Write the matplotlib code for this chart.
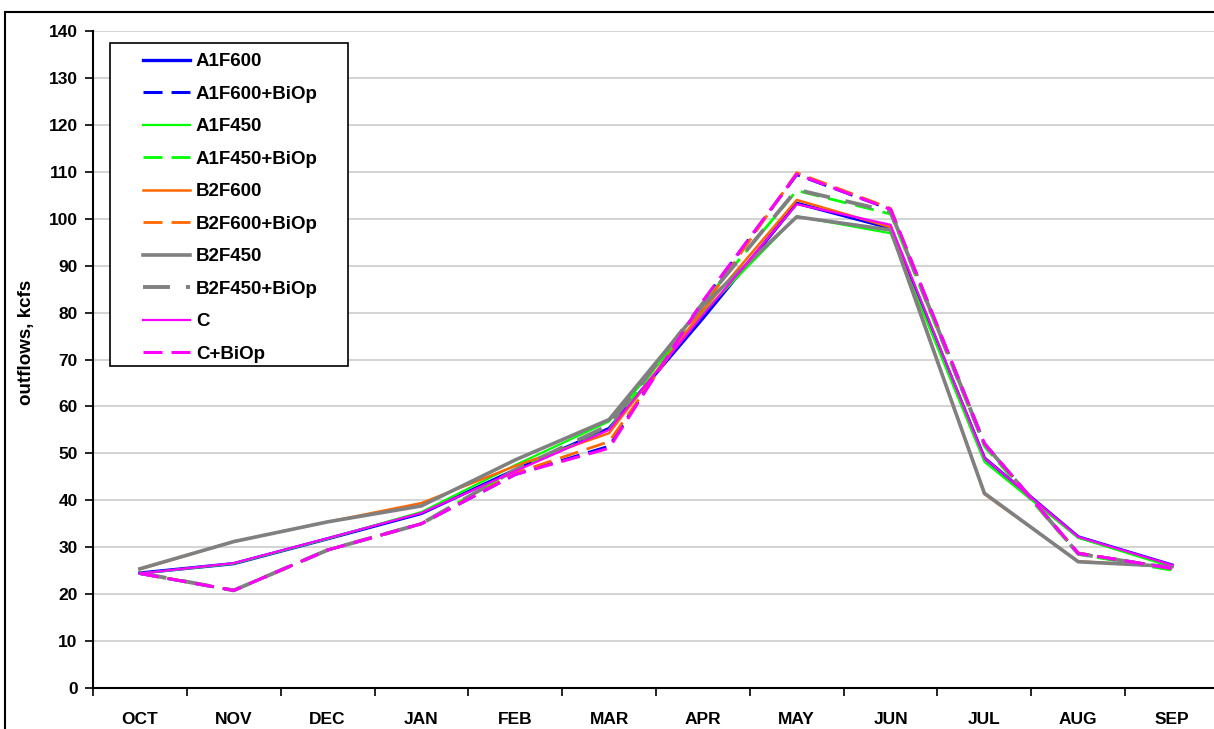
import matplotlib
matplotlib.use('Agg')
import matplotlib.pyplot as plt
from matplotlib.patches import Rectangle

plt.rcParams['font.family'] = ['Liberation Sans', 'DejaVu Sans']
plt.rcParams['font.weight'] = 'bold'
plt.rcParams['lines.scale_dashes'] = False

months = ['OCT', 'NOV', 'DEC', 'JAN', 'FEB', 'MAR', 'APR', 'MAY', 'JUN', 'JUL', 'AUG', 'SEP']

a1f600 = [24.5, 26.5, 31.8, 37.2, 46.5, 55.3, 78.8, 103.3, 98.0, 49.0, 32.2, 26.2]
a1f600_biop = [24.4, 20.8, 29.4, 35.0, 45.5, 51.5, 82.3, 109.4, 102.0, 52.1, 28.7, 25.5]
a1f450 = [24.4, 26.5, 31.8, 37.5, 47.5, 56.8, 80.0, 100.5, 96.9, 48.2, 32.0, 25.8]
a1f450_biop = [24.4, 20.8, 29.4, 35.0, 46.5, 55.0, 82.0, 106.0, 101.0, 51.5, 28.5, 25.1]
b2f600 = [25.3, 31.2, 35.4, 39.4, 47.3, 54.3, 80.5, 104.0, 98.2, 41.3, 27.0, 25.9]
b2f600_biop = [24.5, 20.8, 29.4, 35.0, 45.8, 52.5, 81.0, 109.8, 102.2, 52.0, 28.8, 25.4]
b2f450 = [25.4, 31.2, 35.4, 38.8, 48.6, 57.2, 81.5, 100.4, 97.6, 41.5, 26.9, 25.9]
b2f450_biop = [24.5, 20.8, 29.4, 35.0, 46.5, 56.0, 82.0, 106.2, 101.5, 52.0, 28.6, 25.5]
c = [24.4, 26.6, 31.9, 37.3, 46.2, 55.0, 79.5, 103.1, 98.7, 49.0, 32.2, 26.2]
c_biop = [24.4, 20.8, 29.4, 35.0, 45.5, 51.1, 82.5, 109.5, 102.0, 52.1, 28.7, 25.5]

dash = (0, (13.7, 6.5))
long_dash = (0, (19.4, 11.5))

# label, values, colour, linestyle, width
series = [
    ('A1F600', a1f600, '#0000FF', '-', 2.4),
    ('A1F600+BiOp', a1f600_biop, '#0000FF', dash, 2.2),
    ('A1F450', a1f450, '#00FF00', '-', 1.6),
    ('A1F450+BiOp', a1f450_biop, '#00FF00', dash, 2.0),
    ('B2F600', b2f600, '#FF6600', '-', 1.8),
    ('B2F600+BiOp', b2f600_biop, '#FF6600', dash, 2.0),
    ('B2F450', b2f450, '#808080', '-', 2.6),
    ('B2F450+BiOp', b2f450_biop, '#808080', long_dash, 2.8),
    ('C', c, '#FF00FF', '-', 1.6),
    ('C+BiOp', c_biop, '#FF00FF', dash, 2.2),
]

W, H = 1214, 729
fig = plt.figure(figsize=(W / 100, H / 100), dpi=100)
ax = fig.add_axes([93 / W, 1 - 688 / H, 1126 / W, (688 - 31) / H])

x = list(range(len(months)))
for label, vals, col, ls, lw in series:
    ax.plot(x, vals, color=col, linestyle=ls, linewidth=lw, label=label)

ax.set_xlim(-0.5, 11.5)
ax.set_ylim(0, 140)
ax.set_yticks(range(0, 141, 10))
ax.set_xticks(x)
ax.set_xticklabels(months)
ax.set_xticks([i + 0.5 for i in range(-1, 12)], minor=True)
ax.tick_params(axis='x', which='major', length=0, pad=17, labelsize=12.5)
ax.tick_params(axis='x', which='minor', length=6, width=1.2, direction='out')
ax.tick_params(axis='y', length=6, width=1.2, pad=5, labelsize=12.5)
ax.yaxis.grid(True, color='#CCCCCC', linewidth=1.2)
ax.set_axisbelow(True)
for s in ['top', 'right']:
    ax.spines[s].set_visible(False)
for s in ['left', 'bottom']:
    ax.spines[s].set_linewidth(1.5)

fig.text(26 / W, 1 - 342 / H, 'outflows, kcfs', rotation=90, ha='center', va='center',
         fontsize=13.5, fontweight='bold')

# legend frame drawn separately
fig.patches.append(Rectangle((110 / W, 1 - 366 / H), 238 / W, 323 / H, transform=fig.transFigure,
                             fill=True, facecolor='white', edgecolor='black', linewidth=1.2, zorder=5))
leg = fig.legend(loc='upper left', bbox_to_anchor=(143 / W, 1 - 53 / H), frameon=False,
                 fontsize=13.5, handlelength=2.5, handletextpad=0.32, labelspacing=0.82,
                 borderpad=0, borderaxespad=0)
leg.set_zorder(6)

# outer chart border
fig.patches.append(Rectangle((5 / W, -0.1), 1.2, 1 - 12 / H + 0.1, transform=fig.transFigure,
                             fill=False, edgecolor='black', linewidth=1.5))

fig.savefig('out.png', dpi=100)
